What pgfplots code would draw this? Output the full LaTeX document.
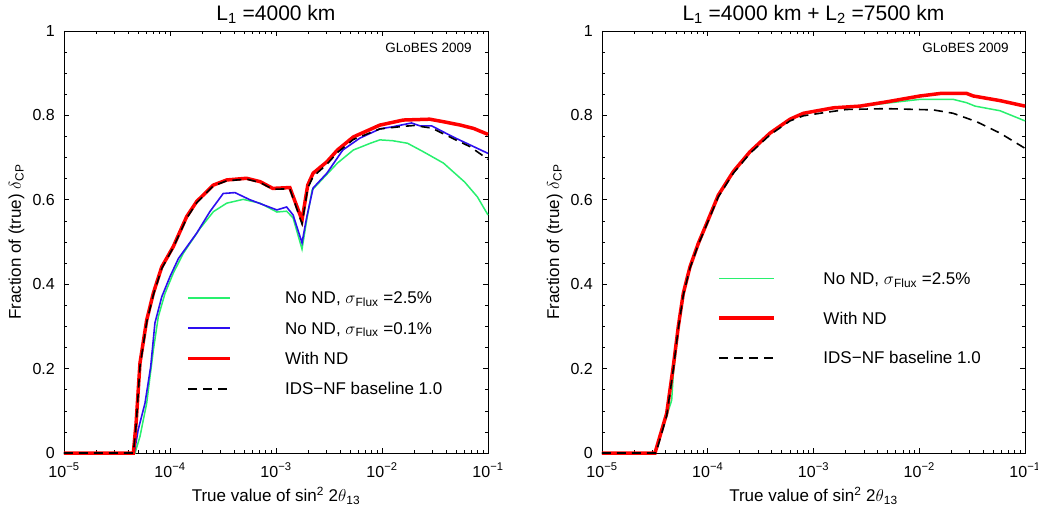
\documentclass[border=0pt]{standalone}
\usepackage{fontspec}
\setmainfont{Liberation Sans}
\usepackage{pgfplots}
\pgfplotsset{compat=1.18}

\definecolor{ndgreen}{RGB}{40,240,110}
\definecolor{ndblue}{RGB}{45,15,240}
\definecolor{ndred}{RGB}{255,0,0}

\newcommand\ticfont{\fontsize{16bp}{18bp}\selectfont}
\newcommand\labfont{\fontsize{17bp}{19bp}\selectfont}
\newcommand\titfont{\fontsize{21bp}{24bp}\selectfont}
\newcommand\globfont{\fontsize{13.5bp}{15bp}\selectfont}

\tikzset{
  lgreen/.style={ndgreen, line width=1.5bp},
  lblue/.style={ndblue, line width=1.6bp},
  lred/.style={ndred, line width=3.5bp},
  lids/.style={black, line width=1.6bp, dash pattern=on 9bp off 6bp},
}

\pgfplotsset{
  every axis/.append style={
    scale only axis, height=422bp,
    xmin=1e-5, xmax=1e-1, ymin=0, ymax=1,
    clip=false,
    xtick={1e-5,1e-4,1e-3,1e-2,1e-1},
    xticklabels={10\textsuperscript{−5},10\textsuperscript{−4},10\textsuperscript{−3},10\textsuperscript{−2},10\textsuperscript{−1}},
    ytick={0,0.2,0.4,0.6,0.8,1},
    minor y tick num=3,
    tick align=inside, tick pos=both,
    major tick length=5bp, minor tick length=3bp,
    axis line style={line width=0.8bp},
    tick style={black, line width=0.6bp},
    tick label style={font=\ticfont, inner sep=0pt},
    xticklabel style={anchor=base, yshift=-24bp},
    yticklabel style={anchor=east, xshift=-9bp},
    xlabel={True value of sin\textsuperscript{2} 2$\theta$\textsubscript{13}},
    ylabel={Fraction of (true) $\delta$\textsubscript{CP}},
    xlabel style={font=\labfont, at={(axis description cs:0.5,0)}, anchor=base, yshift=-48.7bp},
    ylabel style={font=\labfont, at={(axis description cs:-0.1014,0.5)}, anchor=base},
    title style={font=\titfont, at={(axis description cs:0.5,1)}, anchor=base, yshift=4.5bp},
    legend style={draw=none, fill=none, inner sep=0pt, outer sep=0pt,
      cells={anchor=west},
      nodes={inner sep=0pt, text height=12bp, text depth=0bp, font=\labfont}},
  },
}

\begin{document}
\begin{tikzpicture}

% left panel: 4000 km only
\begin{semilogxaxis}[width=424bp, at={(0bp,0bp)},
  /pgf/number format/assume math mode=true,
  title={L\textsubscript{1} =4000 km},
  legend image code/.code={\draw[#1] (0bp,0bp) -- (41.6bp,0bp);},
  legend style={at={(0.289,0.382)}, anchor=north west, row sep=18.4bp, column sep=53.4bp},
]
\addplot[lgreen] coordinates {
(1e-5,0) (4.68e-5,0) (5.21e-5,0.039) (6.03e-5,0.118) (6.97e-5,0.244) (7.76e-5,0.323)
(8.97e-5,0.378) (1.074e-4,0.426) (1.334e-4,0.473) (1.92e-4,0.532) (2.57e-4,0.572)
(3.43e-4,0.592) (4.90e-4,0.601) (7.08e-4,0.592) (1.02e-3,0.571) (1.26e-3,0.573)
(1.45e-3,0.557) (1.76e-3,0.483) (1.95e-3,0.552) (2.19e-3,0.623) (3.80e-3,0.687)
(5.37e-3,0.718) (7.76e-3,0.734) (9.55e-3,0.742) (1.26e-2,0.740) (1.74e-2,0.734)
(2.45e-2,0.714) (3.80e-2,0.687) (6.03e-2,0.642) (7.94e-2,0.607) (0.1,0.564)
};
\addlegendentry{No ND, $\sigma$\textsubscript{Flux} =2.5\%}
\addplot[lblue] coordinates {
(1e-5,0) (4.60e-5,0) (5.01e-5,0.055) (5.81e-5,0.118) (6.58e-5,0.205) (7.21e-5,0.308)
(8.36e-5,0.370) (1e-4,0.418) (1.202e-4,0.461) (1.786e-4,0.521) (2.38e-4,0.572)
(3.18e-4,0.615) (4.10e-4,0.617) (5.69e-4,0.600) (1.02e-3,0.576) (1.26e-3,0.583)
(1.45e-3,0.564) (1.76e-3,0.498) (1.95e-3,0.559) (2.24e-3,0.628) (3.02e-3,0.663)
(4.27e-3,0.718) (6.17e-3,0.746) (9.55e-3,0.768) (1.26e-2,0.773) (1.90e-2,0.782)
(2.29e-2,0.775) (2.95e-2,0.775) (4.68e-2,0.749) (0.1,0.710)
};
\addlegendentry{No ND, $\sigma$\textsubscript{Flux} =0.1\%}
\addplot[lred] coordinates {
(1e-5,0) (4.51e-5,0) (4.79e-5,0.071) (5.21e-5,0.213) (6.03e-5,0.315) (6.97e-5,0.379)
(8.36e-5,0.441) (1.074e-4,0.489) (1.436e-4,0.560) (1.786e-4,0.596) (2.57e-4,0.635)
(3.43e-4,0.647) (5.28e-4,0.651) (7.08e-4,0.643) (9.33e-4,0.627) (1.35e-3,0.629)
(1.76e-3,0.552) (1.995e-3,0.635) (2.24e-3,0.663) (3.02e-3,0.690) (3.80e-3,0.718)
(5.37e-3,0.749) (9.55e-3,0.777) (1.585e-2,0.789) (2.82e-2,0.791) (3.80e-2,0.785)
(5.50e-2,0.777) (7.33e-2,0.769) (0.1,0.755)
};
\addlegendentry{With ND}
\addplot[lids] coordinates {
(1e-5,0) (4.51e-5,0) (4.79e-5,0.065) (5.21e-5,0.205) (6.03e-5,0.310) (6.97e-5,0.375)
(8.36e-5,0.437) (1.074e-4,0.487) (1.436e-4,0.556) (1.786e-4,0.593) (2.57e-4,0.633)
(3.43e-4,0.645) (5.28e-4,0.649) (7.08e-4,0.641) (9.33e-4,0.625) (1.35e-3,0.626)
(1.76e-3,0.543) (1.995e-3,0.628) (2.24e-3,0.655) (3.02e-3,0.684) (3.80e-3,0.712)
(5.37e-3,0.743) (9.55e-3,0.768) (1.585e-2,0.774) (2.0e-2,0.776) (2.95e-2,0.770)
(4.68e-2,0.745) (6.76e-2,0.726) (0.1,0.696)
};
\addlegendentry{IDS−NF baseline 1.0}
\node[anchor=east, font=\globfont, inner sep=0pt] at (rel axis cs:0.962,0.96) {GLoBES 2009};
\end{semilogxaxis}

% right panel: 4000 km + 7500 km
\begin{semilogxaxis}[width=423bp, at={(538bp,0bp)},
  /pgf/number format/assume math mode=true,
  title={L\textsubscript{1} =4000 km + L\textsubscript{2} =7500 km},
  legend image code/.code={\draw[#1] (0bp,0bp) -- (54.6bp,0bp);},
  legend style={at={(0.2735,0.428)}, anchor=north west, row sep=27.7bp, column sep=47.7bp},
]
\addplot[lgreen] coordinates {
(1e-5,0) (3.17e-5,0) (4.09e-5,0.088) (4.56e-5,0.125) (4.72e-5,0.185) (5.27e-5,0.292)
(5.87e-5,0.374) (6.79e-5,0.438) (8.15e-5,0.495) (9.77e-5,0.542) (1.259e-4,0.609)
(1.746e-4,0.665) (2.51e-4,0.712) (3.88e-4,0.756) (6.0e-4,0.790) (8.02e-4,0.804)
(1.55e-3,0.817) (2.75e-3,0.821) (4.90e-3,0.829) (1.016e-2,0.838) (2.09e-2,0.838)
(2.81e-2,0.830) (3.37e-2,0.822) (5.81e-2,0.811) (0.1,0.787)
};
\addlegendentry{No ND, $\sigma$\textsubscript{Flux} =2.5\%}
\addplot[lred] coordinates {
(1e-5,0) (3.17e-5,0) (4.09e-5,0.094) (4.72e-5,0.205) (5.27e-5,0.300) (5.87e-5,0.378)
(6.79e-5,0.441) (8.15e-5,0.497) (9.77e-5,0.544) (1.259e-4,0.611) (1.746e-4,0.667)
(2.51e-4,0.714) (3.88e-4,0.758) (6.0e-4,0.791) (8.02e-4,0.805) (1.55e-3,0.818)
(2.75e-3,0.822) (4.90e-3,0.832) (1.016e-2,0.846) (1.585e-2,0.852) (2.81e-2,0.852)
(3.24e-2,0.846) (5.81e-2,0.835) (0.1,0.822)
};
\addlegendentry{With ND}
\addplot[lids] coordinates {
(1e-5,0) (3.24e-5,0) (4.09e-5,0.088) (4.72e-5,0.198) (5.27e-5,0.295) (5.87e-5,0.374)
(6.79e-5,0.438) (8.15e-5,0.494) (9.77e-5,0.541) (1.259e-4,0.607) (1.746e-4,0.663)
(2.51e-4,0.710) (3.88e-4,0.754) (6.0e-4,0.787) (8.02e-4,0.799) (1.15e-3,0.805)
(2.04e-3,0.814) (4.90e-3,0.816) (1.358e-2,0.813) (2.09e-2,0.805) (3.49e-2,0.785)
(5.81e-2,0.758) (0.1,0.722)
};
\addlegendentry{IDS−NF baseline 1.0}
\node[anchor=east, font=\globfont, inner sep=0pt] at (rel axis cs:0.962,0.96) {GLoBES 2009};
\end{semilogxaxis}

\pgfresetboundingbox
\path[use as bounding box] (-64bp,-59bp) rectangle (974bp,453bp);
\end{tikzpicture}
\end{document}
